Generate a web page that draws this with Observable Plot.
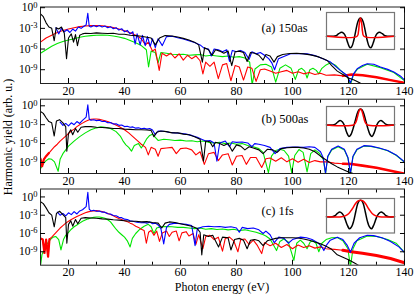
<!DOCTYPE html>
<html><head><meta charset="utf-8">
<script src="https://cdn.jsdelivr.net/npm/d3@7"></script>
<script src="https://cdn.jsdelivr.net/npm/@observablehq/plot@0.6"></script>
<style>
body{margin:0;background:#fff;}
#c{position:relative;width:415px;height:294px;font-family:"Liberation Serif","Times New Roman",serif;color:#000;}
#c svg{position:absolute;overflow:visible;}
.lab{position:absolute;font-size:12px;white-space:nowrap;line-height:1;}
</style></head><body><div id="c"></div>
<script>
// ---------- x / y ticks ----------
const xMajor = [20,40,60,80,100,120,140];
const xMinor = [30,50,70,90,110,130];
const yMajor = [1,1e-3,1e-6,1e-9];
const panelLabels = ["(a) 150as","(b) 500as","(c) 1fs"];
const xTitle = "Photon energy (eV)";
const yTitle = "Harmonic yield (arb. u.)";

// ---------- data: [photon energy eV, log10 yield] ----------
const a_black = [[10,-0.9],[11,-1.3],[12,-2.2],[13,-2.8],[14,-3.0],[14.9,-4.8],[15.6,-2.9],[16.5,-3.1],[17.5,-2.8],[18.5,-3.7],[19.3,-7.4],[20,-4.4],[21,-3.8],[21.8,-5.0],[22.5,-3.9],[23.2,-5.5],[24,-4.0],[25,-3.8],[26,-3.7],[28,-3.75],[30,-3.65],[32,-3.7],[34,-3.75],[36,-3.7],[38,-3.85],[40,-3.85],[42,-4.0],[44,-4.05],[46,-4.15],[48,-4.3],[49.5,-4.4],[51,-5.4],[52.5,-4.4],[54.5,-4.05],[57,-4.1],[59,-4.25],[61,-4.45],[63,-4.7],[65,-5.0],[66.5,-5.4],[67.8,-7.9],[68.6,-5.8],[70,-6.1],[71.3,-6.9],[72.5,-6.1],[74,-6.3],[75.5,-6.6],[77,-6.3],[78.3,-8.4],[79.5,-6.4],[81,-6.3],[82.5,-6.5],[83.8,-7.8],[85,-6.5],[86.5,-6.6],[88,-6.9],[89.5,-7.6],[90.5,-6.8],[92,-7.0],[93.4,-7.9],[94.6,-7.1],[96.5,-6.8],[99,-6.65],[101.5,-6.6],[104,-6.7],[106.5,-6.85],[109,-7.1],[111,-7.4],[112.5,-7.7],[114,-8.4],[116,-9.2],[118,-9.7],[120,-10.2],[122,-10.5],[124,-10.9],[125.5,-11.3]];
const a_red = [[10,-5.0],[12,-4.4],[14,-4.0],[16,-3.6],[18,-3.3],[20,-3.1],[22,-2.9],[24,-2.75],[26,-2.65],[28,-2.6],[30,-2.58],[32,-2.62],[34,-2.72],[36,-2.88],[38,-3.1],[40,-3.35],[42,-3.65],[44,-4.0],[46,-4.5],[47.5,-5.4],[48.5,-5.0],[50,-6.3],[51,-6.0],[52.4,-9.1],[53.4,-6.6],[55,-7.0],[56.5,-6.6],[58,-7.3],[59.5,-6.7],[61,-7.6],[62.5,-6.9],[64,-7.4],[65.5,-7.0],[67,-7.7],[68,-9.6],[69,-7.9],[70.5,-8.5],[72,-7.9],[73.5,-10.3],[75,-8.3],[76.5,-8.1],[78,-10.6],[79.5,-8.4],[81,-8.6],[82.5,-10.5],[84,-8.6],[85.5,-8.8],[87,-10.7],[88.5,-9.0],[90,-8.9],[92,-9.2],[94,-9.5],[96,-9.3],[98,-9.1],[100,-9.5],[102,-9.3],[104,-9.6],[106,-9.4],[108,-9.7],[110,-9.5],[112,-9.8],[115,-9.75],[118,-9.9],[121,-9.7],[125,-9.8],[130,-10.1],[135,-10.5],[140,-10.9]];
const a_green = [[10,-6.6],[12,-6.1],[14,-5.6],[16,-5.2],[18,-4.9],[20,-4.7],[22,-4.5],[24,-4.3],[26,-4.15],[28,-4.05],[30,-4.0],[32,-3.98],[34,-4.0],[36,-4.1],[38,-4.25],[40,-4.45],[42,-4.75],[44,-5.1],[46,-5.5],[47.8,-6.1],[48.6,-8.6],[49.5,-6.3],[51,-6.5],[52,-8.0],[53,-6.5],[55,-6.6],[57,-6.75],[59,-6.8],[61,-6.75],[63,-6.9],[65,-6.85],[67,-6.8],[69,-7.0],[71,-6.9],[73,-7.0],[75,-7.1],[77,-7.0],[79,-7.2],[81,-7.1],[83,-7.3],[84.7,-7.9],[85.6,-11.2],[86.6,-8.9],[88.5,-8.3],[90.5,-8.2],[92.5,-8.6],[94,-10.8],[95.5,-8.8],[97.5,-8.3],[99.5,-8.8],[101,-10.4],[102.2,-9.0],[103.3,-8.8],[104.4,-9.2],[105.2,-10.2],[106.2,-9.0],[107.3,-8.8],[108.5,-9.1],[109.4,-9.6],[110.5,-8.8],[112,-8.3],[113.6,-8.0],[115.5,-8.4],[117.1,-9.1],[119.5,-9.9],[120.7,-11.2],[121.8,-9.7],[123.1,-8.95],[126.7,-8.2],[131.4,-8.7],[136.2,-9.4],[140,-10.6]];
const a_blue = [[15.5,-2.9],[16.5,-3.8],[17.5,-3.0],[18.5,-3.5],[19.5,-3.2],[20.5,-3.6],[21.5,-3.1],[22.5,-3.4],[23.5,-2.8],[24.5,-3.0],[25.5,-2.7],[26.3,-2.5],[26.9,-0.8],[27.4,-2.7],[28,-2.8],[29,-2.6],[30,-2.75],[31,-2.6],[32,-2.8],[33,-2.65],[34,-2.9],[35,-2.75],[36,-3.05],[37,-2.9],[38,-3.25],[39,-3.05],[40,-3.5],[41,-3.3],[42,-3.8],[43,-3.5],[43.8,-5.3],[44.5,-3.8],[45.6,-5.4],[46.4,-4.0],[47.4,-5.5],[48.2,-4.2],[49.2,-5.6],[50,-4.5],[51,-5.8],[52,-4.5],[53.5,-5.5],[55,-4.2],[57,-4.15],[59,-4.35],[61,-4.55],[63,-4.8],[65,-5.05],[67,-5.4],[68.5,-5.9],[70,-6.0],[71,-7.0],[72,-6.0],[73.5,-6.1],[75,-6.4],[76.5,-6.1],[77.5,-7.8],[78.5,-6.2],[80,-6.4],[81.5,-6.2],[83,-6.5],[84.5,-7.5],[85.5,-6.4],[87,-6.7],[88.5,-6.5],[90,-6.9],[91.5,-7.4],[92.6,-8.0],[93.6,-9.0],[95,-7.4],[96.9,-7.07],[99.3,-6.68],[102,-6.65],[105.2,-6.7],[108,-6.95],[110,-7.26],[113.6,-7.89],[117.1,-9.1],[119.5,-9.83],[120.7,-10.9],[121.8,-9.6],[123.1,-8.86],[125,-8.4],[126.7,-8.13],[129,-8.2],[131.4,-8.62],[134,-8.95],[136.2,-9.34],[138.5,-9.9],[140,-10.5]];

const b_black = [[10,-0.9],[11,-1.2],[12,-1.9],[13,-2.5],[14,-2.7],[14.9,-4.8],[15.7,-2.4],[16.8,-2.2],[18,-2.7],[19,-3.3],[19.4,-7.2],[20,-4.4],[20.8,-3.8],[21.5,-4.6],[22.5,-3.6],[23.3,-4.2],[24.5,-3.4],[26,-3.3],[28,-3.3],[30,-3.4],[32,-3.45],[34,-3.5],[36,-3.6],[38,-3.6],[40,-3.7],[42,-3.75],[44,-3.8],[46,-3.8],[48,-3.85],[49.5,-3.9],[50.5,-4.9],[51.5,-4.2],[53,-4.0],[55,-4.1],[57,-4.3],[59,-4.3],[61,-4.5],[63,-4.6],[65,-4.9],[67,-5.3],[68.2,-8.8],[69,-5.6],[70.5,-5.7],[71.5,-6.5],[72.5,-5.8],[74,-6.0],[75.5,-6.3],[77,-6.0],[78.5,-7.2],[80,-6.2],[81.5,-6.4],[83,-7.0],[84.5,-6.5],[86,-6.7],[88,-7.0],[89.5,-7.6],[91,-6.9],[93,-7.0],[94.5,-7.4],[96,-6.8],[98,-6.65],[100,-6.6],[102,-6.6],[104,-6.7],[106,-6.9],[108,-7.3],[110,-8.0],[112,-8.6],[114,-9.2],[116,-9.7],[118,-10.1],[120,-10.5],[122,-10.8]];
const b_red = [[10,-8.4],[10.6,-9.6],[11.2,-8.5],[12,-8.0],[13,-7.5],[14,-7.0],[15,-6.5],[16,-6.1],[17,-5.6],[18,-5.2],[19,-4.8],[20,-4.4],[21,-4.0],[22,-3.7],[23,-3.3],[24,-3.0],[25,-2.75],[26,-2.5],[27,-2.3],[28,-2.15],[29,-2.1],[30,-2.1],[31,-2.15],[32,-2.25],[34,-2.5],[36,-2.85],[38,-3.3],[40,-3.8],[41.5,-4.3],[43,-4.9],[44.5,-5.5],[46,-6.1],[47.5,-6.6],[48.5,-7.8],[49.5,-6.6],[51,-6.9],[52,-8.0],[53,-6.8],[55,-6.7],[57,-6.6],[58.5,-7.6],[60,-6.8],[62,-6.7],[64,-7.0],[65.5,-7.8],[67,-7.3],[68.5,-9.3],[70,-7.6],[72,-7.4],[73.5,-8.7],[75,-7.8],[77,-7.6],[78.5,-9.4],[80,-8.0],[82,-7.9],[83.5,-9.3],[85,-8.2],[87,-8.2],[89,-9.8],[90.5,-8.4],[92,-8.3],[94,-8.8],[96,-8.25],[98,-8.9],[100,-8.4],[102,-8.95],[104,-8.5],[106,-9.0],[108,-8.7],[110,-8.9],[112,-8.9],[115,-9.1],[118,-9.2],[121,-9.25],[125,-9.5],[130,-9.85],[135,-10.3],[140,-10.8]];
const b_green = [[10,-10.0],[11,-9.2],[12,-8.7],[13,-8.4],[14,-8.5],[15,-8.9],[16.3,-10.4],[17,-8.5],[18,-7.6],[19,-7.0],[20,-6.4],[22,-5.6],[24,-4.9],[26,-4.3],[28,-3.8],[30,-3.5],[31.5,-3.35],[33,-3.4],[35,-3.6],[37,-4.1],[38.5,-4.8],[39.5,-5.6],[40.5,-6.2],[41.5,-6.6],[42.5,-7.2],[43.5,-6.3],[45,-6.0],[46,-6.7],[47,-6.0],[48,-5.2],[49,-4.7],[50,-4.5],[51,-5.0],[52,-5.5],[54,-5.3],[56,-5.4],[58,-5.5],[60,-5.45],[62,-5.6],[64,-5.55],[66,-5.7],[68,-5.6],[70,-5.8],[72,-5.9],[74,-5.8],[76,-6.0],[78,-5.9],[80,-6.1],[82,-6.0],[84,-6.3],[86,-6.5],[88,-6.8],[89.5,-7.4],[91.4,-10.6],[92.5,-8.0],[94,-7.1],[95.5,-6.9],[97,-7.1],[98.6,-8.0],[99.7,-10.6],[100.8,-7.9],[102.3,-6.95],[103.8,-7.4],[105.2,-10.5],[106.5,-7.6],[108,-7.0],[109.5,-7.5],[111,-8.5],[111.8,-10.8],[112.6,-8.1],[114,-7.0],[116.3,-6.5],[118.5,-7.0],[119.8,-8.3],[120.7,-10.8],[121.6,-8.1],[123,-7.0],[125.5,-6.4],[128,-6.45],[131,-6.75],[134,-7.15],[137,-7.85],[140,-8.95]];
const b_blue = [[17,-2.6],[18,-3.1],[19,-2.8],[20,-3.2],[21,-2.7],[22,-3.0],[23,-2.5],[24,-2.8],[25,-2.3],[26.3,-1.8],[26.9,0.15],[27.4,-2.1],[28,-2.3],[29,-2.2],[30,-2.35],[31,-2.3],[32,-2.5],[33,-2.45],[34,-2.7],[35,-2.65],[36,-2.9],[37,-2.85],[38,-3.1],[39,-3.05],[40,-3.3],[41,-3.25],[42,-3.4],[43,-3.35],[44,-3.55],[45,-3.5],[46,-3.65],[47,-3.55],[48,-3.7],[49,-3.6],[50,-3.85],[51,-4.6],[52,-4.0],[54,-4.05],[56,-4.2],[58,-4.3],[60,-4.35],[62,-4.5],[64,-4.7],[66,-5.0],[67.5,-5.3],[69,-5.6],[70.5,-5.5],[72,-5.9],[73,-8.8],[74,-5.9],[76,-5.6],[77.5,-6.5],[78.5,-5.7],[80,-5.8],[82,-5.75],[84,-5.9],[85.5,-6.5],[86.5,-6.0],[88,-6.1],[90,-6.3],[92,-6.6],[93.8,-7.6],[95.5,-6.8],[98,-6.6],[101,-6.55],[104,-6.6],[106,-6.5],[108,-6.6],[110,-7.3],[111,-8.3],[111.8,-10.7],[112.6,-8.0],[114,-6.9],[116.3,-6.4],[118.5,-6.9],[119.8,-8.2],[120.7,-10.7],[121.6,-8.0],[123,-6.9],[125.5,-6.33],[128,-6.4],[131,-6.7],[134,-7.1],[137,-7.8],[140,-8.9]];

const c_black = [[10,-0.8],[11,-1.1],[12,-1.8],[13,-2.6],[14,-3.0],[14.9,-4.9],[15.7,-2.7],[16.8,-2.35],[18,-2.9],[19,-3.4],[19.4,-7.6],[20,-4.5],[20.8,-3.9],[21.5,-4.8],[22.5,-3.7],[23.3,-4.4],[24.5,-3.5],[26,-3.4],[28,-3.45],[30,-3.5],[32,-3.6],[34,-3.65],[36,-3.75],[38,-3.8],[40,-3.9],[42,-4.0],[44,-4.0],[46,-4.1],[48,-4.05],[50,-4.2],[52,-4.3],[53.3,-5.1],[54.5,-4.3],[56,-4.1],[58,-4.2],[60,-4.4],[62,-4.6],[64,-4.8],[66,-5.2],[67,-5.8],[67.6,-9.5],[68.3,-6.2],[70,-6.5],[71.5,-6.3],[73.6,-8.2],[75,-6.6],[77,-6.7],[78,-8.7],[79.3,-7.0],[81,-6.8],[82.5,-7.1],[83.8,-8.5],[85,-7.1],[86.5,-7.0],[88,-7.2],[89.5,-8.0],[91,-7.2],[92.5,-7.0],[94,-6.8],[96,-6.7],[98,-6.7],[100,-6.7],[102,-6.75],[104,-6.9],[106,-7.1],[108,-7.4],[110,-7.7],[112,-8.1],[114,-8.6],[116,-9.5],[118,-9.9],[120,-10.3],[122,-10.8],[123.5,-11.2]];
const c_red = [[10,-6.8],[10.8,-7.0],[11.4,-9.2],[12,-7.0],[12.7,-9.8],[13.2,-6.9],[14,-6.6],[15,-6.1],[16,-5.6],[17,-5.1],[18,-4.7],[19,-4.3],[20,-4.0],[21,-3.7],[22,-3.45],[23,-3.2],[24,-3.0],[25,-2.8],[26,-2.6],[27,-2.45],[28,-2.35],[29,-2.3],[30,-2.25],[31,-2.3],[32,-2.4],[33,-2.55],[34,-2.7],[35,-2.9],[36,-3.1],[37,-3.35],[38,-3.55],[39,-3.7],[40,-3.9],[41,-4.05],[42,-4.3],[43,-4.5],[44,-4.8],[45,-5.0],[46,-5.3],[47,-5.5],[47.8,-7.6],[48.6,-5.8],[49.5,-5.5],[50.5,-6.3],[51.5,-5.6],[52.5,-7.3],[53.5,-5.9],[55,-5.6],[56,-6.5],[57,-5.8],[58.5,-5.6],[59.5,-7.2],[60.5,-5.9],[62,-5.7],[63,-6.4],[64.5,-6.0],[65.5,-7.8],[66.5,-6.2],[68,-8.5],[69,-6.5],[70.5,-6.3],[72,-7.0],[73.5,-6.6],[75,-8.9],[76,-6.8],[77.5,-6.6],[79,-7.2],[80.5,-9.0],[81.5,-7.0],[83,-6.9],[84.5,-7.8],[86,-7.1],[87.5,-8.0],[89,-9.3],[90,-7.5],[92,-8.0],[94,-7.6],[96,-8.3],[98,-7.8],[100,-8.5],[102,-7.9],[104,-8.3],[106,-8.0],[108,-8.4],[110,-8.2],[112,-8.5],[115,-8.6],[118,-8.75],[121,-9.0],[125,-9.25],[130,-9.6],[135,-10.1],[140,-10.8]];
const c_green = [[10,-11.3],[10.5,-9.5],[11.5,-8.3],[12.5,-7.6],[13.5,-7.0],[14.5,-6.6],[15.5,-6.5],[16.5,-7.0],[17.3,-8.7],[18.2,-7.0],[19,-6.3],[20,-5.8],[21,-5.3],[22,-4.9],[23,-4.6],[24,-4.3],[25,-4.0],[26,-3.8],[27,-3.6],[28,-3.45],[29,-3.35],[30,-3.3],[31,-3.3],[32,-3.4],[33,-3.5],[34,-3.75],[35,-4.1],[36,-4.7],[37,-5.3],[38,-5.8],[39,-6.2],[40,-6.6],[41,-7.2],[42,-8.2],[42.8,-6.8],[44,-6.0],[45.5,-5.3],[47,-4.8],[48.5,-4.5],[49.5,-4.9],[50.5,-6.0],[51.5,-5.1],[53,-4.9],[55,-4.85],[57,-4.9],[59,-5.0],[61,-5.0],[63,-5.1],[65,-5.2],[67,-5.1],[69,-5.3],[71,-5.2],[73,-5.35],[75,-5.25],[77,-5.4],[79,-5.3],[81,-5.5],[83,-5.4],[85,-5.6],[87,-5.8],[89,-6.1],[90.5,-6.4],[92,-6.9],[94.3,-8.8],[95.5,-7.3],[96.9,-6.9],[98.5,-7.4],[100.5,-10.4],[101.5,-7.6],[102.8,-7.1],[104,-7.6],[105.2,-8.5],[106.3,-7.4],[107.3,-7.2],[108.4,-7.6],[109.4,-9.0],[110.5,-7.6],[112,-7.0],[114,-6.7],[116,-6.65],[118,-7.2],[119.8,-8.5],[120.7,-11.5],[121.6,-8.5],[123,-7.2],[126.7,-6.4],[130,-6.5],[134,-7.0],[137,-7.6],[140,-9.1]];
const c_blue = [[16,-2.5],[17,-3.0],[18,-2.7],[19,-3.1],[20,-2.6],[21,-2.9],[22,-2.4],[23,-2.8],[24,-2.3],[25,-2.1],[26.3,-1.6],[26.9,0.75],[27.4,-2.0],[28,-2.3],[29,-2.2],[30,-2.35],[31,-2.3],[32,-2.5],[33,-2.5],[34,-2.75],[35,-2.8],[36,-3.05],[37,-3.1],[38,-3.35],[39,-3.4],[40,-3.65],[41,-3.7],[42,-3.9],[43,-4.0],[44,-4.1],[45,-4.2],[46,-4.25],[47,-4.2],[48,-4.3],[49,-4.1],[50,-4.4],[51,-4.3],[52,-4.6],[53,-5.2],[54,-7.7],[55,-5.0],[56,-4.5],[58,-4.3],[60,-4.4],[62,-4.5],[64,-4.7],[65.2,-8.0],[66,-5.2],[68,-4.9],[70,-4.8],[72,-4.9],[74,-4.85],[76,-5.0],[78,-4.9],[80,-5.1],[81,-5.8],[82,-5.0],[84,-5.2],[86,-5.1],[88,-5.4],[89.5,-6.0],[90.5,-5.6],[92,-6.2],[93.5,-7.5],[95.1,-6.6],[97,-6.8],[98.5,-7.6],[100,-7.0],[102.9,-6.6],[105,-6.7],[107,-7.0],[109,-7.5],[110.5,-8.2],[111.2,-8.8],[112,-8.0],[113.5,-7.1],[116,-6.6],[118,-7.0],[119.5,-7.9],[120.7,-9.06],[122,-7.6],[124,-6.7],[126.7,-6.3],[129,-6.35],[132,-6.7],[135,-7.3],[138,-8.2],[140,-9.1]];

// ---------- inset pulses: [time (arb.), field (arb.)] ----------
const ia_black = [[-1,0],[-0.8,0],[-0.72,0.03],[-0.64,0.14],[-0.56,0.22],[-0.49,0.15],[-0.43,-0.05],[-0.37,-0.38],[-0.31,-0.63],[-0.26,-0.58],[-0.2,-0.25],[-0.14,0.3],[-0.08,0.78],[-0.03,0.98],[0,1],[0.03,0.98],[0.08,0.78],[0.14,0.3],[0.2,-0.25],[0.26,-0.58],[0.31,-0.63],[0.37,-0.38],[0.43,-0.05],[0.49,0.15],[0.56,0.22],[0.64,0.14],[0.72,0.03],[0.8,0],[1,0]];
const ia_red = [[-1,0],[-0.1,0],[-0.06,0.25],[-0.035,0.7],[0,1],[0.035,0.7],[0.06,0.25],[0.1,0],[1,0]];
const ib_black = [[-1,0],[-0.82,0],[-0.74,0.05],[-0.67,0.18],[-0.6,0.27],[-0.53,0.18],[-0.47,-0.05],[-0.41,-0.45],[-0.34,-0.72],[-0.28,-0.6],[-0.22,-0.25],[-0.15,0.3],[-0.08,0.8],[-0.03,0.98],[0,1],[0.03,0.98],[0.08,0.8],[0.15,0.3],[0.22,-0.25],[0.28,-0.6],[0.34,-0.72],[0.41,-0.45],[0.47,-0.05],[0.53,0.18],[0.6,0.27],[0.67,0.18],[0.74,0.05],[0.82,0],[1,0]];
const ib_red = [[-1,0],[-0.2,0],[-0.14,0.15],[-0.09,0.5],[-0.04,0.88],[0,1],[0.04,0.88],[0.09,0.5],[0.14,0.15],[0.2,0],[1,0]];
const ic_black = [[-1,0],[-0.83,0],[-0.75,0.06],[-0.68,0.2],[-0.61,0.29],[-0.54,0.2],[-0.47,-0.05],[-0.4,-0.45],[-0.32,-0.73],[-0.26,-0.6],[-0.2,-0.25],[-0.14,0.3],[-0.08,0.8],[-0.03,0.98],[0,1],[0.03,0.98],[0.08,0.8],[0.14,0.3],[0.2,-0.25],[0.26,-0.6],[0.32,-0.73],[0.4,-0.45],[0.47,-0.05],[0.54,0.2],[0.61,0.29],[0.68,0.2],[0.75,0.06],[0.83,0],[1,0]];
const ic_red = [[-1,0],[-0.55,0],[-0.45,0.05],[-0.35,0.18],[-0.25,0.45],[-0.15,0.78],[-0.07,0.95],[0,1],[0.07,0.95],[0.15,0.78],[0.25,0.45],[0.35,0.18],[0.45,0.05],[0.55,0],[1,0]];

// ---------- colours ----------
const COL = {black:"#000000", red:"#ff0000", green:"#00e600", blue:"#0000ff"};
const FONT = "'Liberation Serif','Times New Roman',serif";
const ns = "http://www.w3.org/2000/svg";
const root = document.getElementById("c");

function panel(o){
  const X = d=>d[0], Y = d=>Math.pow(10,d[1]);
  const line = (data, color, w=1.1) => Plot.line(data, {x:X, y:Y, stroke:color, strokeWidth:w, clip:true, strokeLinejoin:"round"});
  const marks = [
    line(o.green, COL.green),
    line(o.red, COL.red),
    line(o.red.filter(d=>d[0]>=118), COL.red, o.tailW),
    ...(o.headW ? [line(o.red.filter(d=>d[0]<=13.5), COL.red, o.headW)] : []),
    line(o.blue, COL.blue),
    line(o.black, COL.black),
    Plot.frame({stroke:"#222", strokeWidth:1}),
    Plot.axisX({anchor:"bottom", ticks:xMajor, tickSize:-5, tickFormat:()=>"", label:null}),
    Plot.axisX({anchor:"bottom", ticks:xMinor, tickSize:-3, tickFormat:()=>"", label:null}),
    Plot.axisX({anchor:"top", ticks:xMajor, tickSize:-5, tickFormat:()=>"", label:null}),
    Plot.axisX({anchor:"top", ticks:xMinor, tickSize:-3, tickFormat:()=>"", label:null}),
    Plot.axisY({anchor:"left", ticks:yMajor, tickSize:-5, tickFormat:()=>"", label:null}),
    Plot.axisY({anchor:"right", ticks:yMajor, tickSize:-5, tickFormat:()=>"", label:null}),
    Plot.axisX({anchor:"bottom", ticks:xMajor, tickSize:0, tickPadding:2.5, label:null, fontSize:12, tickFormat:d=>String(d)}),
    Plot.axisY({anchor:"left", ticks:yMajor, tickSize:0, tickPadding:3, label:null, fontSize:11.5, tickFormat:d=>String(Math.round(Math.log10(d)))}),
    Plot.text([o.label], {text:d=>d, frameAnchor:"top-left", dx:o.ldx, dy:o.ldy, textAnchor:"start", lineAnchor:"middle", fontSize:12.5})
  ];
  const svg = Plot.plot({
    width:415, height:o.height, marginLeft:40, marginRight:11, marginTop:o.mt, marginBottom:o.mb,
    x:{domain:[10,140]}, y:{type:"log", domain:o.dom},
    style:{fontFamily:FONT, background:"transparent", color:"#000", overflow:"visible"},
    marks
  });
  svg.style.left = "0px"; svg.style.top = o.top + "px";
  svg.querySelectorAll('g[aria-label="y-axis tick label"] text').forEach(t=>{
    const e = t.textContent;
    if (!e) return;
    t.textContent = "";
    const a = document.createElementNS(ns,"tspan"); a.textContent = "10";
    const b = document.createElementNS(ns,"tspan"); b.textContent = e;
    b.setAttribute("dy","-0.45em"); b.setAttribute("font-size","8.5");
    t.append(a,b);
  });
  root.appendChild(svg);
}

function inset(o){
  const X = d=>d[0], Y = d=>d[1];
  const svg = Plot.plot({
    width:68, height:o.h, margin:0,
    x:{domain:[-1,1], axis:null}, y:{domain:o.dom, axis:null},
    style:{background:"#fff", overflow:"visible"},
    marks:[
      Plot.line(o.black, {x:X, y:Y, stroke:"#000", strokeWidth:1.5, curve:"catmull-rom"}),
      Plot.line(o.red, {x:X, y:Y, stroke:"#ff0000", strokeWidth:1.5, curve:"catmull-rom"}),
      Plot.frame({stroke:"#777", strokeWidth:1.2})
    ]
  });
  svg.style.left = o.left + "px"; svg.style.top = o.top + "px";
  root.appendChild(svg);
}

panel({top:0, height:97, mt:6.5, mb:14, dom:[1e-11, Math.pow(10,0.1)], label:panelLabels[0], ldx:221, ldy:20.5, tailW:2.4,
  black:a_black, red:a_red, green:a_green, blue:a_blue});
panel({top:97, height:90, mt:1.7, mb:14, dom:[Math.pow(10,-10.75), Math.pow(10,1.05)], label:panelLabels[1], ldx:221, ldy:20, tailW:2.6, headW:2.2,
  black:b_black, red:b_red, green:b_green, blue:b_blue});
panel({top:187, height:91.7, mt:1.5, mb:14, dom:[Math.pow(10,-11.2), Math.pow(10,1.3)], label:panelLabels[2], ldx:221, ldy:22.2, tailW:3, headW:2.2,
  black:c_black, red:c_red, green:c_green, blue:c_blue});

inset({left:326, top:11.5, h:37, dom:[-0.73,1.31], black:ia_black, red:ia_red});
inset({left:326, top:105.5, h:35, dom:[-1.04,1.15], black:ib_black, red:ib_red});
inset({left:326, top:197.5, h:34.5, dom:[-0.98,1.1], black:ic_black, red:ic_red});

const xl = document.createElement("div");
xl.className = "lab"; xl.textContent = xTitle;
xl.style.left = "222px"; xl.style.top = "287px"; xl.style.transform = "translate(-50%,-50%)";
root.appendChild(xl);
const yl = document.createElement("div");
yl.className = "lab"; yl.textContent = yTitle;
yl.style.left = "8px"; yl.style.top = "137px"; yl.style.transform = "translate(-50%,-50%) rotate(-90deg)";
root.appendChild(yl);
</script></body></html>
